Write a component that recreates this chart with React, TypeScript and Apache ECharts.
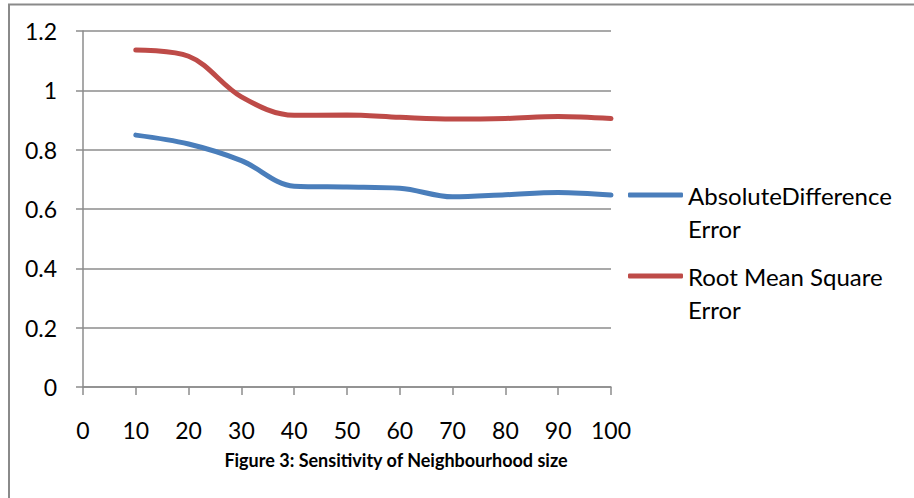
import React, { useEffect, useRef } from "react";
import * as echarts from "echarts";

// Neighbourhood sizes on the x axis
const neighbourhoodSizes = [10, 20, 30, 40, 50, 60, 70, 80, 90, 100];
// Error measures per neighbourhood size
const absoluteDifferenceError = [0.849, 0.819, 0.763, 0.677, 0.674, 0.67, 0.641, 0.648, 0.656, 0.647];
const rootMeanSquareError = [1.136, 1.115, 0.978, 0.916, 0.917, 0.909, 0.903, 0.905, 0.912, 0.905];

const seriesNames = ["AbsoluteDifference Error", "Root Mean Square Error"];
// A leading blank line keeps the legend line level with the first text line
const legendLabels = [" \nAbsoluteDifference\nError", " \nRoot Mean Square\nError"];
const figureCaption = "Figure 3: Sensitivity of Neighbourhood size";

const FONT = "Lato, 'Open Sans', sans-serif";
const GRID_GRAY = "#8c8c8c";
const BLUE = "#4a7ebb";
const RED = "#be4b48";

export default function App() {
  const ref = useRef<HTMLDivElement>(null);

  useEffect(() => {
    if (!ref.current) return;
    const chart = echarts.init(ref.current, undefined, { renderer: "svg" });

    const toPairs = (vals: number[]) => neighbourhoodSizes.map((x, i) => [x, vals[i]]);

    const legendFor = (idx: number, top: number) => ({
      left: 628,
      top,
      padding: 0,
      orient: "vertical",
      data: [seriesNames[idx]],
      icon: "roundRect",
      itemWidth: 55,
      itemHeight: 5,
      itemGap: 0,
      selectedMode: false,
      formatter: () => legendLabels[idx],
      textStyle: {
        fontFamily: FONT,
        fontSize: 24,
        color: "#000",
        lineHeight: 33,
      },
    });

    chart.setOption({
      animation: false,
      backgroundColor: "#fff",
      textStyle: { fontFamily: FONT },
      title: {
        text: figureCaption,
        left: 391,
        top: 446,
        textAlign: "center",
        textStyle: { fontFamily: FONT, fontSize: 18, fontWeight: "bold", color: "#000" },
      },
      legend: [legendFor(0, 145.5), legendFor(1, 226.5)],
      grid: { left: 83, right: 303, top: 31, bottom: 111, containLabel: false },
      xAxis: {
        type: "value",
        min: 0,
        max: 100,
        interval: 10,
        axisLine: { show: true, lineStyle: { color: GRID_GRAY, width: 1.5 } },
        axisTick: { show: true, inside: false, length: 8, lineStyle: { color: GRID_GRAY, width: 1.5 } },
        splitLine: { show: false },
        axisLabel: { fontFamily: FONT, fontSize: 23, color: "#000", margin: 31 },
      },
      yAxis: {
        type: "value",
        min: 0,
        max: 1.2,
        interval: 0.2,
        axisLine: { show: true, lineStyle: { color: GRID_GRAY, width: 1.5 } },
        axisTick: { show: true, inside: false, length: 7, lineStyle: { color: GRID_GRAY, width: 1.5 } },
        splitLine: { show: true, lineStyle: { color: GRID_GRAY, width: 1.5 } },
        axisLabel: { fontFamily: FONT, fontSize: 23, color: "#000", margin: 26 },
      },
      series: [
        {
          name: seriesNames[0],
          type: "line",
          data: toPairs(absoluteDifferenceError),
          smooth: 0.35,
          symbol: "none",
          color: BLUE,
          lineStyle: { color: BLUE, width: 5, cap: "round" },
        },
        {
          name: seriesNames[1],
          type: "line",
          data: toPairs(rootMeanSquareError),
          smooth: 0.35,
          symbol: "none",
          color: RED,
          lineStyle: { color: RED, width: 5, cap: "round" },
        },
      ],
      graphic: [
        {
          type: "rect",
          silent: true,
          shape: { x: 9, y: 4.5, width: 1200, height: 1000 },
          style: { fill: "none", stroke: "#8a8a8a", lineWidth: 2 },
        },
      ],
    });

    return () => chart.dispose();
  }, []);

  return (
    <div
      ref={ref}
      style={{ position: "fixed", left: 0, top: 0, width: 914, height: 498 }}
    />
  );
}
